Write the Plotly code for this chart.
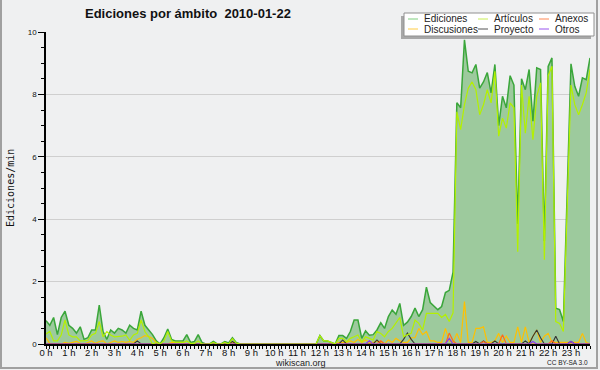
import plotly.graph_objects as go

# ---------------- data (10-minute steps, 144 points) ----------------
ediciones = [
    0.75, 0.6, 0.85, 0.3, 0.85, 1.05, 0.6, 0.5, 0.35, 0.55, 0.15, 0.2,
    0.45, 0.45, 1.25, 0.4, 0.15, 0.45, 0.35, 0.5, 0.45, 0.35, 0.6, 0.5,
    0.45, 1.05, 0.6, 0.45, 0.3, 0.1, 0.0, 0.2, 0.48, 0.15, 0.1, 0.1,
    0.1, 0.3, 0.05, 0.08, 0.3, 0.05, 0.0, 0.0, 0.08, 0.0, 0.0, 0.08,
    0.03, 0.2, 0.05, 0.0, 0.0, 0.0, 0.0, 0.0, 0.0, 0.0, 0.0, 0.0,
    0.0, 0.0, 0.0, 0.0, 0.0, 0.0, 0.0, 0.0, 0.0, 0.0, 0.0, 0.0,
    0.27, 0.1, 0.1, 0.05, 0.0, 0.27, 0.27, 0.18, 0.4, 0.77, 0.77, 0.18,
    0.42, 0.28, 0.3, 0.45, 0.68, 0.5, 0.88, 1.09, 0.95, 1.3, 0.6, 0.7,
    0.88, 1.15, 0.88, 1.1, 1.82, 1.33, 1.2, 1.1, 1.2, 1.65, 1.72, 2.3,
    7.73, 7.57, 9.75, 8.74, 8.69, 8.96, 8.2, 8.4, 8.7, 8.05, 8.96, 7.0,
    7.94, 7.57, 8.6, 8.3, 3.85, 8.5, 8.15, 8.8, 7.14, 8.85, 8.8, 3.3,
    8.9, 9.17, 1.15, 1.1, 0.72, 4.8, 8.98, 8.26, 7.94, 8.53, 8.47, 9.17,
]
articulos = [
    0.32, 0.4, 0.1, 0.1, 0.29, 0.77, 0.29, 0.23, 0.23, 0.1, 0.1, 0.12,
    0.29, 0.34, 0.72, 0.23, 0.4, 0.29, 0.23, 0.23, 0.25, 0.29, 0.12, 0.29,
    0.34, 0.77, 0.4, 0.23, 0.0, 0.05, 0.0, 0.1, 0.4, 0.1, 0.05, 0.05,
    0.05, 0.1, 0.02, 0.02, 0.1, 0.0, 0.0, 0.0, 0.05, 0.0, 0.0, 0.05,
    0.0, 0.17, 0.03, 0.0, 0.0, 0.0, 0.0, 0.0, 0.0, 0.0, 0.0, 0.0,
    0.0, 0.0, 0.0, 0.0, 0.0, 0.0, 0.0, 0.0, 0.0, 0.0, 0.0, 0.0,
    0.27, 0.1, 0.1, 0.05, 0.0, 0.18, 0.18, 0.07, 0.18, 0.23, 0.29, 0.07,
    0.23, 0.18, 0.13, 0.4, 0.34, 0.23, 0.4, 0.5, 0.66, 0.85, 0.23, 0.3,
    0.34, 0.77, 0.66, 0.45, 0.98, 0.98, 0.98, 0.98, 0.85, 0.95, 0.72, 1.0,
    7.44, 6.87, 7.67, 8.2, 8.4, 8.15, 7.35, 7.67, 8.15, 7.73, 8.74, 6.66,
    7.24, 6.92, 7.73, 7.57, 2.96, 8.3, 6.76, 7.94, 6.55, 7.94, 8.37, 2.7,
    8.6, 8.9, 0.72, 0.66, 0.4, 4.3, 8.3, 7.67, 7.35, 7.67, 8.05, 8.8,
]
discusiones = [
    0.2, 0.02, 0.0, 0.0, 0.0, 0.05, 0.02, 0.05, 0.08, 0.02, 0.0, 0.05,
    0.1, 0.02, 0.08, 0.1, 0.0, 0.05, 0.1, 0.05, 0.08, 0.05, 0.08, 0.05,
    0.15, 0.2, 0.27, 0.24, 0.18, 0.05, 0.0, 0.0, 0.0, 0.05, 0.05, 0.05,
    0.05, 0.0, 0.0, 0.0, 0.0, 0.0, 0.0, 0.0, 0.0, 0.0, 0.0, 0.0,
    0.0, 0.05, 0.0, 0.0, 0.0, 0.0, 0.0, 0.0, 0.0, 0.0, 0.0, 0.0,
    0.0, 0.0, 0.0, 0.0, 0.0, 0.0, 0.0, 0.0, 0.0, 0.0, 0.0, 0.0,
    0.0, 0.0, 0.0, 0.0, 0.0, 0.05, 0.05, 0.05, 0.1, 0.05, 0.15, 0.05,
    0.13, 0.05, 0.05, 0.1, 0.05, 0.0, 0.13, 0.05, 0.18, 0.1, 0.05, 0.05,
    0.2, 0.2, 0.5, 0.3, 0.4, 0.1, 0.1, 0.05, 0.05, 0.5, 0.1, 0.05,
    0.34, 0.05, 1.36, 0.05, 0.05, 0.5, 0.5, 0.55, 0.05, 0.05, 0.1, 0.34,
    0.05, 0.25, 0.05, 0.05, 0.55, 0.05, 0.55, 0.05, 0.25, 0.45, 0.05, 0.25,
    0.34, 0.05, 0.05, 0.05, 0.05, 0.05, 0.05, 0.05, 0.05, 0.34, 0.05, 0.0,
]
proyecto = [0.0] * 144
for i, v in {24: 0.1, 49: 0.08, 78: 0.13, 87: 0.13, 94: 0.15, 95: 0.35, 96: 0.15,
             113: 0.08, 115: 0.1, 118: 0.1, 126: 0.1, 128: 0.25, 129: 0.45,
             130: 0.2, 134: 0.25, 138: 0.08}.items():
    proyecto[i] = v
anexos = [0.0] * 144
for i, v in {88: 0.1, 106: 0.35, 107: 0.1, 115: 0.08, 120: 0.3, 133: 0.1}.items():
    anexos[i] = v
otros = [0.0] * 144
for i, v in {85: 0.1, 106: 0.18, 128: 0.08, 138: 0.08}.items():
    otros[i] = v

hours = [i / 6 for i in range(144)]
hour_ticks = list(range(24))
hour_labels = [f"{h} h" for h in hour_ticks]

# ---------------- figure ----------------
W, H = 600, 370
L, R, T, B = 46, 10, 32, 26
PW, PH = W - L - R, H - T - B

def px(x):
    return (x - L) / PW

def py(y):
    return (H - B - y) / PH

BG = "#eff0f1"
fig = go.Figure()
fig.add_trace(go.Scatter(x=hours, y=ediciones, mode="lines", fill="tozeroy",
                         fillcolor="#9dca9d", line=dict(color="#3aa63a", width=1.5),
                         name="Ediciones"))
fig.add_trace(go.Scatter(x=hours, y=discusiones, mode="lines",
                         line=dict(color="#ffc000", width=1.2), name="Discusiones"))
fig.add_trace(go.Scatter(x=hours, y=proyecto, mode="lines",
                         line=dict(color="#333333", width=1.1), name="Proyecto"))
fig.add_trace(go.Scatter(x=hours, y=anexos, mode="lines",
                         line=dict(color="#ff6a1a", width=1.2), name="Anexos"))
fig.add_trace(go.Scatter(x=hours, y=otros, mode="lines",
                         line=dict(color="#8a3cf0", width=1.2), name="Otros"))
fig.add_trace(go.Scatter(x=hours, y=articulos, mode="lines",
                         line=dict(color="#b4f000", width=1.2), name="Artículos"))

FONT = "Liberation Sans, Arial, sans-serif"
fig.update_layout(
    width=W, height=H, margin=dict(l=L, r=R, t=T, b=B, pad=0),
    paper_bgcolor=BG, plot_bgcolor=BG, showlegend=False,
    font=dict(family=FONT, color="#111111"),
    xaxis=dict(range=[0, 143 / 6], tickvals=hour_ticks, ticktext=hour_labels,
               automargin=False, ticklabelstandoff=-4,
               ticks="outside", ticklen=3, tickcolor="black", tickwidth=1,
               minor=dict(dtick=1 / 6, tick0=0, ticks="outside", ticklen=3,
                          tickcolor="black", tickwidth=1, showgrid=False),
               showline=True, linecolor="black", linewidth=1.5, showgrid=False,
               zeroline=False, tickfont=dict(size=9.5, family=FONT)),
    yaxis=dict(range=[0, 10], dtick=2, tick0=0, ticks="outside", ticklen=6,
               automargin=False,
               tickcolor="black", tickwidth=1,
               minor=dict(dtick=0.5, ticks="outside", ticklen=3, tickcolor="black",
                          showgrid=False),
               showline=True, linecolor="black", linewidth=1.5,
               showgrid=True, gridcolor="#cfcfcf", gridwidth=1, zeroline=False,
               tickfont=dict(size=8, family=FONT)),
)

shapes = []
annots = []
# outer frame
shapes.append(dict(type="line", xref="paper", yref="paper", x0=px(1), x1=px(1),
                   y0=py(0), y1=py(368), line=dict(color="#a0a0a0", width=2)))
shapes.append(dict(type="line", xref="paper", yref="paper", x0=px(597), x1=px(597),
                   y0=py(0), y1=py(368), line=dict(color="#a0a0a0", width=2)))
shapes.append(dict(type="line", xref="paper", yref="paper", x0=px(0), x1=px(598),
                   y0=py(368), y1=py(368), line=dict(color="#a0a0a0", width=2)))

# legend box with shadow
shapes.append(dict(type="rect", xref="paper", yref="paper", x0=px(401), x1=px(591),
                   y0=py(39), y1=py(16), fillcolor="#a8a8a8", line=dict(width=0)))
shapes.append(dict(type="rect", xref="paper", yref="paper", x0=px(404), x1=px(594),
                   y0=py(36), y1=py(13), fillcolor="white",
                   line=dict(color="#909090", width=1)))
legend_items = [
    ("Ediciones", "#7fcf7f", 408, 19), ("Artículos", "#c8ee55", 478, 19),
    ("Anexos", "#ff8855", 539, 19),
    ("Discusiones", "#ffcc44", 408, 29), ("Proyecto", "#555555", 478, 29),
    ("Otros", "#9955ee", 539, 29),
]
for name, col, x0, yc in legend_items:
    shapes.append(dict(type="line", xref="paper", yref="paper", x0=px(x0), x1=px(x0 + 10),
                       y0=py(yc), y1=py(yc), line=dict(color=col, width=1)))
    annots.append(dict(text=name, xref="paper", yref="paper", x=px(x0 + 14), y=py(yc),
                       xanchor="left", yanchor="middle", showarrow=False,
                       font=dict(size=10, family=FONT, color="#222222")))

# title
annots.append(dict(text="<b>Ediciones por ámbito  2010-01-22</b>", xref="paper", yref="paper",
                   x=px(188), y=py(14), xanchor="center", yanchor="middle", showarrow=False,
                   font=dict(size=13, family=FONT, color="#111111")))
# y axis title
annots.append(dict(text="Ediciones/min", xref="paper", yref="paper", x=px(10), y=py(188),
                   textangle=-90, xanchor="center", yanchor="middle", showarrow=False,
                   font=dict(size=10, family="DejaVu Sans Mono, monospace", color="#111111")))
# footer
annots.append(dict(text="wikiscan.org", xref="paper", yref="paper", x=px(300), y=py(362.5),
                   xanchor="center", yanchor="middle", showarrow=False,
                   font=dict(size=9, family=FONT, color="#222222")))
annots.append(dict(text="CC BY-SA 3.0", xref="paper", yref="paper", x=px(590), y=py(362.5),
                   xanchor="right", yanchor="middle", showarrow=False,
                   font=dict(size=6.5, family=FONT, color="#222222")))

fig.update_layout(shapes=shapes, annotations=annots)
fig.write_html("out.html", config={"displayModeBar": False})

# remove default page margin so the figure sits at the window's top-left corner
with open("out.html", encoding="utf-8") as f:
    html = f.read()
html = html.replace("<head>", "<head><style>html,body{margin:0;padding:0;overflow:hidden}</style>", 1)
with open("out.html", "w", encoding="utf-8") as f:
    f.write(html)
